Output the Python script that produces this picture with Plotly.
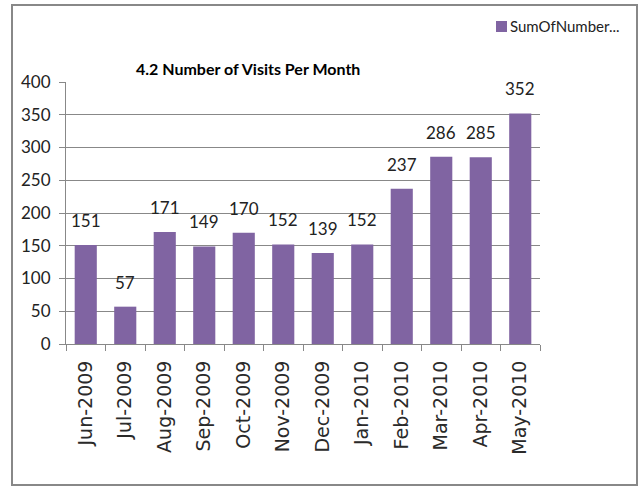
import plotly.graph_objects as go

months = ["Jun-2009", "Jul-2009", "Aug-2009", "Sep-2009", "Oct-2009", "Nov-2009",
          "Dec-2009", "Jan-2010", "Feb-2010", "Mar-2010", "Apr-2010", "May-2010"]
visits = [151, 57, 171, 149, 170, 152, 139, 152, 237, 286, 285, 352]
series_name = "SumOfNumber..."
title_text = "4.2 Number of Visits Per Month"
bar_color = "#8064A2"

W, H = 639, 487
L, R, T, B = 66, 540, 82, 344
pw, ph = R - L, B - T

def px(x):
    return (x - L) / pw

def py(y):
    return (B - y) / ph

fig = go.Figure()
fig.add_trace(go.Bar(
    x=months, y=visits, name=series_name,
    marker=dict(color=bar_color, line=dict(width=0)),
    hoverinfo="x+y",
))

label_annots = [
    dict(x=m, y=v, text=str(v), xref="x", yref="y", showarrow=False,
         yanchor="bottom", yshift=12,
         font=dict(family="Lato, sans-serif", size=17, color="#222"))
    for m, v in zip(months, visits)
]

fig.update_layout(
    width=W, height=H,
    margin=dict(l=L, r=W - R, t=T, b=H - B, autoexpand=False),
    paper_bgcolor="white", plot_bgcolor="white",
    bargap=0.44,
    showlegend=False,
    xaxis=dict(
        tickangle=-90, tickson="boundaries", ticks="outside", ticklen=6,
        tickcolor="#888", showline=True, linecolor="#888", linewidth=1,
        tickfont=dict(family="DejaVu Sans, sans-serif", size=19, color="#2a2a2a"),
        showgrid=False, automargin=False, ticklabelstandoff=8,
    ),
    yaxis=dict(
        range=[0, 400], dtick=50, ticks="outside", ticklen=6, tickcolor="#888",
        showline=True, linecolor="#888", linewidth=1,
        gridcolor="#888", gridwidth=1, zeroline=False, automargin=False,
        tickfont=dict(family="Lato, sans-serif", size=17, color="#222"),
        ticklabelstandoff=5,
    ),
    annotations=label_annots + [
        dict(text="<b>" + title_text + "</b>", xref="paper", yref="paper",
             x=px(248), y=py(68), xanchor="center", yanchor="middle", showarrow=False,
             font=dict(family="Lato, sans-serif", size=16, color="#000")),
        dict(text=series_name, xref="paper", yref="paper",
             x=px(508), y=py(26), xanchor="left", yanchor="middle", showarrow=False,
             font=dict(family="Lato, sans-serif", size=15, color="#222")),
    ],
    shapes=[
        dict(type="rect", xref="paper", yref="paper",
             x0=px(12), x1=px(637), y0=py(485), y1=py(5),
             line=dict(color="#888", width=2), fillcolor="rgba(0,0,0,0)", layer="below"),
        dict(type="rect", xref="paper", yref="paper",
             x0=px(496), x1=px(507), y0=py(32), y1=py(21),
             line=dict(width=0), fillcolor=bar_color),
    ],
)

fig.write_html("out.html", config={"displayModeBar": False},
               post_script="document.body.style.margin='0px';")
